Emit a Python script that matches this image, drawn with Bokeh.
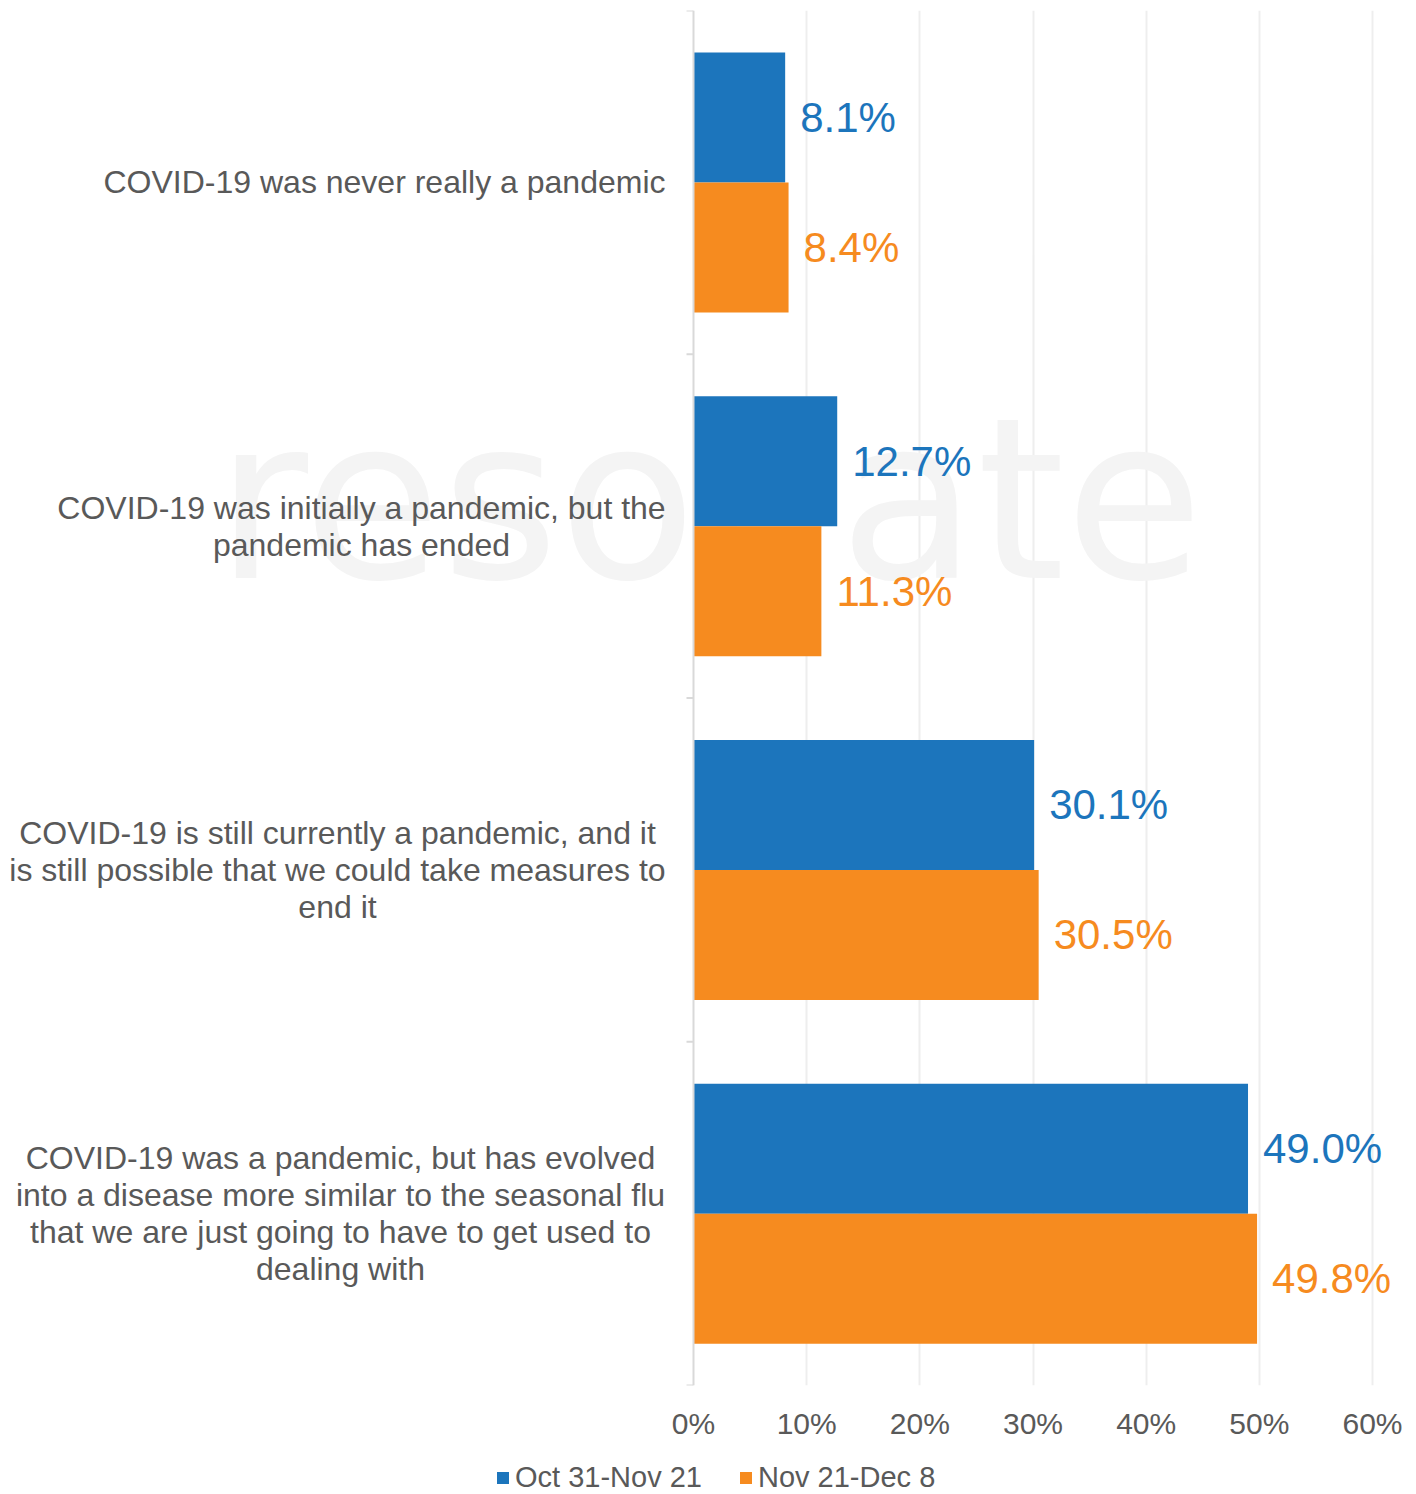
from bokeh.plotting import figure
from bokeh.layouts import column
from bokeh.models import (ColumnDataSource, Range1d, FixedTicker, Label, LabelSet,
                          Legend, LegendItem, Span)
from bokeh.core.properties import value
from bokeh.embed import file_html
from bokeh.resources import INLINE

# ---------------- data ----------------
category_lines = [
    ["COVID-19 was never really a pandemic"],
    ["COVID-19 was initially a pandemic, but the", "pandemic has ended"],
    ["COVID-19 is still currently a pandemic, and it",
     "is still possible that we could take measures to", "end it"],
    ["COVID-19 was a pandemic, but has evolved",
     "into a disease more similar to the seasonal flu",
     "that we are just going to have to get used to", "dealing with"],
]
series_names = ["Oct 31-Nov 21", "Nov 21-Dec 8"]
oct_nov = [8.1, 12.7, 30.1, 49.0]
nov_dec = [8.4, 11.3, 30.5, 49.8]
tick_values = [0, 10, 20, 30, 40, 50, 60]
tick_labels = ["0%", "10%", "20%", "30%", "40%", "50%", "60%"]

# ---------------- style / layout ----------------
BLUE = "#1C75BC"
ORANGE = "#F68B1F"
GREY_TEXT = "#595959"
FONT = "Liberation Sans"

W = 1416
H_MAIN, H_LEG = 1450, 44
AX0, AX1 = 693, 1372          # pixel position of 0% and 60%
TOP, BOT = 10, 1385           # plot area top / bottom
px_x = (AX1 - AX0) / (tick_values[-1] - tick_values[0])
ncat = len(category_lines)
px_y = (BOT - TOP) / ncat
bar_h = 130 / px_y

x_start = -AX0 / px_x
x_end = x_start + W / px_x

p = figure(width=W, height=H_MAIN, output_backend="svg", toolbar_location=None,
           x_range=Range1d(x_start, x_end), y_range=Range1d(ncat, 0),
           y_axis_location=None,
           min_border_left=0, min_border_right=0, min_border_top=TOP,
           min_border_bottom=H_MAIN - BOT)
p.outline_line_color = None
p.background_fill_color = "white"
p.border_fill_color = "white"

idx = list(range(ncat))
src_a = ColumnDataSource(dict(
    y=[i + 0.5 - bar_h / 2 for i in idx], v=oct_nov,
    t=[f"{v:.1f}%" for v in oct_nov]))
src_b = ColumnDataSource(dict(
    y=[i + 0.5 + bar_h / 2 for i in idx], v=nov_dec,
    t=[f"{v:.1f}%" for v in nov_dec]))

# faint watermark
WM_SIZE = 225
p.add_layout(Label(x=(215 - AX0) / px_x,
                   y=(577 - 0.345 * WM_SIZE - TOP) / px_y, text="resonate",
                   text_font="DejaVu Sans ExtraLight, DejaVu Sans",
                   text_font_size=f"{WM_SIZE}px", text_color="#f4f4f4",
                   text_baseline="alphabetic", text_align="left",
                   level="underlay"))

p.xgrid.grid_line_color = "#eeeeee"
p.xgrid.grid_line_width = 2
p.xgrid.ticker = FixedTicker(ticks=tick_values[1:])
p.ygrid.grid_line_color = None

r1 = p.hbar(y="y", left=0, right="v", height=bar_h, source=src_a,
            fill_color=BLUE, line_color=None)
r2 = p.hbar(y="y", left=0, right="v", height=bar_h, source=src_b,
            fill_color=ORANGE, line_color=None)

# vertical axis line and category boundary ticks
p.add_layout(Span(location=0, dimension="height", line_color="#d9d9d9",
                  line_width=2))
bounds = list(range(ncat + 1))
p.segment(x0=[-7 / px_x] * len(bounds), x1=[0] * len(bounds), y0=bounds,
          y1=bounds, line_color="#d9d9d9", line_width=2)

for src, col in ((src_a, BLUE), (src_b, ORANGE)):
    p.add_layout(LabelSet(x="v", y="y", text="t", source=src, x_offset=15,
                          text_font=value(FONT), text_font_size=value("42px"),
                          text_color=value(col), text_baseline="middle",
                          text_align="left"))

# category labels (left of the axis)
centers_px = [384, 361, 337, 340]
line_step = 37 / px_y
for i, lines in enumerate(category_lines):
    n = len(lines)
    for k, line in enumerate(lines):
        p.add_layout(Label(x=(centers_px[i] - AX0) / px_x,
                           y=i + 0.5 + (k - (n - 1) / 2) * line_step,
                           text=line, text_font=FONT, text_font_size="32px",
                           text_color=GREY_TEXT, text_align="center",
                           text_baseline="middle"))

# x axis
xa = p.xaxis[0]
xa.ticker = FixedTicker(ticks=tick_values)
xa.major_label_overrides = {v: l for v, l in zip(tick_values, tick_labels)}
xa.axis_line_color = None
xa.major_tick_line_color = None
xa.minor_tick_line_color = None
xa.major_label_text_font = FONT
xa.major_label_text_font_size = "30px"
xa.major_label_text_color = GREY_TEXT
xa.major_label_standoff = 15

# ---------------- legend strip ----------------
pl = figure(width=W, height=H_LEG, output_backend="svg", toolbar_location=None,
            x_range=Range1d(0, 1), y_range=Range1d(0, 1),
            x_axis_location=None, y_axis_location=None,
            min_border_left=0, min_border_right=0, min_border_top=0,
            min_border_bottom=0)
pl.outline_line_color = None
pl.grid.visible = False
pl.background_fill_color = "white"
pl.border_fill_color = "white"
# legend swatches (zero-size bars, only their colours are shown in the legend)
l1 = pl.hbar(y=[0.5], right=[0], left=0, height=0, fill_color=BLUE,
             line_color=None)
l2 = pl.hbar(y=[0.5], right=[0], left=0, height=0, fill_color=ORANGE,
             line_color=None)
legend = Legend(items=[LegendItem(label=series_names[0], renderers=[l1]),
                       LegendItem(label=series_names[1], renderers=[l2])],
                location=(495, 0), orientation="horizontal",
                label_text_font=FONT, label_text_font_size="29px",
                label_text_color=GREY_TEXT, glyph_width=15, glyph_height=15,
                label_standoff=5, spacing=36, padding=0, margin=0,
                border_line_color=None, background_fill_alpha=0)
pl.add_layout(legend)

open("out.html", "w").write(file_html(column(p, pl, spacing=0), INLINE))
